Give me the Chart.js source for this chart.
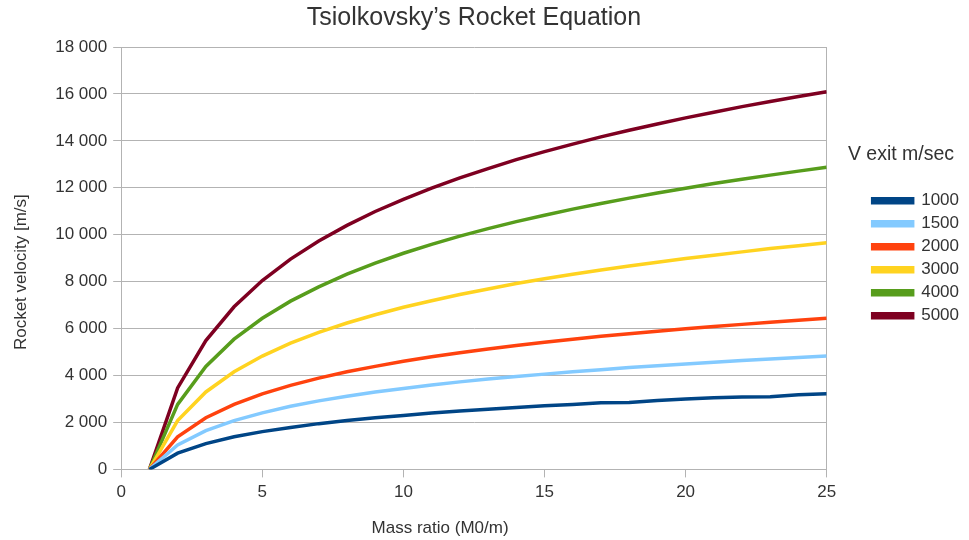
<!DOCTYPE html>
<html lang="en">
<head>
    <meta charset="UTF-8">
    <title>Tsiolkovsky's Rocket Equation</title>
    <script src="https://cdn.jsdelivr.net/npm/chart.js"></script>
    <style>
        body {
            margin: 0;
            background-color: #ffffff;
        }
        .chart-container {
            width: 969px;
            height: 540px;
            position: relative;
        }
    </style>
</head>
<body>
    <div class="chart-container">
        <canvas id="chartCanvas"></canvas>
    </div>

    <script>
        // mass ratio M0/m
        const massRatio = [1, 2, 3, 4, 5, 6, 7, 8, 9, 10, 11, 12, 13, 14, 15, 16, 17, 18, 19, 20, 21, 22, 23, 24, 25];

        const exitSpeeds = ['1000', '1500', '2000', '3000', '4000', '5000'];

        // rocket velocity [m/s]
        const v1000 = [0, 690, 1100, 1390, 1610, 1790, 1950, 2080, 2200, 2300, 2400, 2490, 2560, 2640, 2710, 2770, 2840, 2850, 2940, 3000, 3050, 3090, 3100, 3180, 3220];
        const v1500 = [0, 1040, 1650, 2080, 2410, 2690, 2920, 3120, 3300, 3450, 3600, 3730, 3850, 3960, 4060, 4160, 4250, 4340, 4420, 4490, 4570, 4640, 4700, 4770, 4830];
        const v2000 = [0, 1390, 2200, 2770, 3220, 3580, 3890, 4160, 4390, 4610, 4800, 4970, 5130, 5280, 5420, 5550, 5670, 5780, 5890, 5990, 6090, 6180, 6270, 6360, 6440];
        const v3000 = [0, 2080, 3300, 4160, 4830, 5380, 5840, 6240, 6590, 6910, 7190, 7450, 7690, 7920, 8120, 8320, 8500, 8670, 8830, 8990, 9130, 9270, 9410, 9530, 9660];
        const v4000 = [0, 2770, 4390, 5550, 6440, 7170, 7780, 8320, 8790, 9210, 9590, 9940, 10260, 10560, 10830, 11090, 11330, 11560, 11780, 11980, 12180, 12360, 12540, 12710, 12880];
        const v5000 = [0, 3470, 5490, 6930, 8050, 8960, 9730, 10400, 10990, 11510, 11990, 12420, 12820, 13200, 13540, 13860, 14170, 14450, 14720, 14980, 15220, 15460, 15680, 15890, 16090];

        const seriesValues = [v1000, v1500, v2000, v3000, v4000, v5000];
        const colors = ['#004586', '#83caff', '#ff420e', '#ffd320', '#579d1c', '#7e0021'];

        const fontFamily = '"Liberation Sans", Arial, sans-serif';
        const gridColor = '#b3b3b3';
        const textColor = '#333333';
        const xTitle = 'Mass ratio (M0/m)';
        const yTitle = 'Rocket velocity [m/s]';
        const legendTitle = 'V exit m/sec';

        function spaced(value) {
            return String(value).replace(/\B(?=(\d{3})+(?!\d))/g, ' ');
        }

        const datasets = exitSpeeds.map((label, i) => ({
            label: label,
            data: massRatio.map((x, j) => ({ x: x, y: seriesValues[i][j] })),
            borderColor: colors[i],
            backgroundColor: colors[i],
            borderWidth: 3.5,
            pointRadius: 0,
            tension: 0
        }));

        // axis titles and the legend heading are a bit off-centre in the original,
        // so they are written here instead of by the scales / legend
        function drawText(ctx, text, x, y, size, angle) {
            ctx.save();
            ctx.translate(x, y);
            ctx.rotate(angle || 0);
            ctx.font = size + 'px ' + fontFamily;
            ctx.fillStyle = textColor;
            ctx.textAlign = 'center';
            ctx.textBaseline = 'middle';
            ctx.fillText(text, 0, 0);
            ctx.restore();
        }

        const titlesPlugin = {
            id: 'offsetTitles',
            afterDraw(chart) {
                const area = chart.chartArea;
                const ctx = chart.ctx;
                drawText(ctx, xTitle, area.left + (area.right - area.left) * 0.452, 528, 17);
                drawText(ctx, yTitle, 21, area.top + (area.bottom - area.top) * 0.533, 17, -Math.PI / 2);
                drawText(ctx, legendTitle, 901, 155, 19.5);
            }
        };

        new Chart(document.getElementById('chartCanvas'), {
            type: 'line',
            data: { datasets: datasets },
            plugins: [titlesPlugin],
            options: {
                responsive: true,
                maintainAspectRatio: false,
                animation: false,
                layout: {
                    padding: { left: 0, right: 0, top: 0, bottom: 0 }
                },
                plugins: {
                    title: {
                        display: true,
                        fullSize: false,
                        text: 'Tsiolkovsky\u2019s Rocket Equation',
                        color: textColor,
                        font: { family: fontFamily, size: 25, weight: 'normal' },
                        padding: { top: 3, bottom: 14 }
                    },
                    legend: {
                        position: 'right',
                        fullSize: false,
                        align: 'center',
                        labels: {
                            color: textColor,
                            font: { family: fontFamily, size: 17 },
                            boxWidth: 40,
                            boxHeight: 4,
                            padding: 6
                        }
                    },
                    tooltip: { enabled: false }
                },
                scales: {
                    x: {
                        type: 'linear',
                        min: 0,
                        max: 25,
                        ticks: {
                            stepSize: 5,
                            padding: 5,
                            color: textColor,
                            font: { family: fontFamily, size: 17 }
                        },
                        grid: {
                            drawOnChartArea: false,
                            color: gridColor,
                            tickColor: gridColor,
                            tickLength: 8
                        },
                        border: { color: gridColor },
                        title: {
                            display: true,
                            text: xTitle,
                            color: 'rgba(0,0,0,0)',
                            font: { family: fontFamily, size: 16 },
                            padding: { top: 11, bottom: 2 }
                        }
                    },
                    y: {
                        min: 0,
                        max: 18000,
                        ticks: {
                            stepSize: 2000,
                            padding: 6,
                            color: textColor,
                            font: { family: fontFamily, size: 17 },
                            callback: value => spaced(value)
                        },
                        grid: {
                            color: gridColor,
                            tickColor: gridColor,
                            tickLength: 8
                        },
                        border: { color: gridColor },
                        title: {
                            display: true,
                            text: yTitle,
                            color: 'rgba(0,0,0,0)',
                            font: { family: fontFamily, size: 16 },
                            padding: { top: 12, bottom: 18 }
                        }
                    },
                    // right frame line of the plot, also keeps the gap to the legend
                    yRight: {
                        position: 'right',
                        ticks: { display: false },
                        grid: { drawOnChartArea: false, drawTicks: false },
                        border: { color: gridColor },
                        afterFit: scale => { scale.width = 40; }
                    }
                }
            }
        });
    </script>
</body>
</html>
